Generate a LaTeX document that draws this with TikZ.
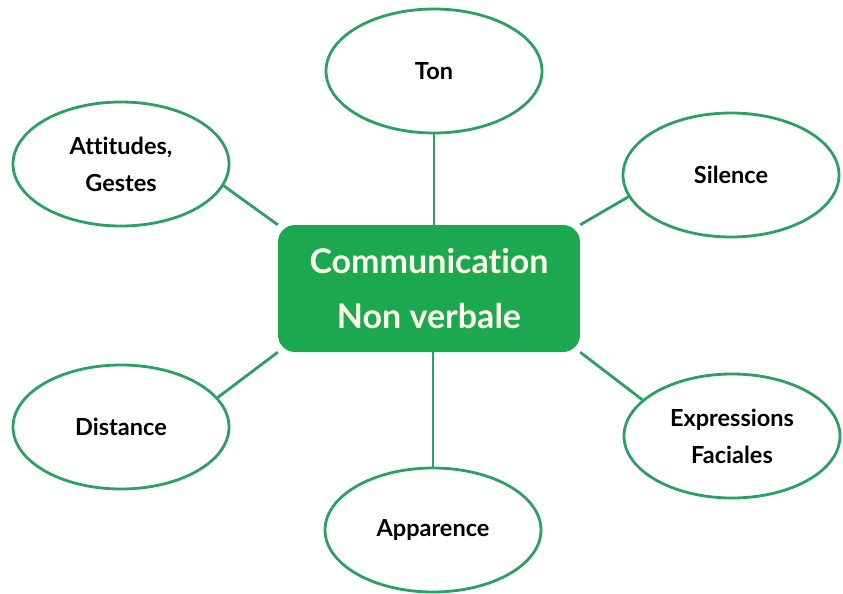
\documentclass[tikz,border=0pt]{standalone}
\usepackage{fontspec}
\setmainfont[Ligatures={NoCommon}]{Lato}
\usetikzlibrary{shapes.geometric,backgrounds}
\definecolor{boxgreen}{RGB}{28,168,80}
\definecolor{ringgreen}{RGB}{44,160,100}
\begin{document}
\begin{tikzpicture}[x=1pt,y=-1pt,line join=round,line cap=round,
	bubble/.style={ellipse,draw=ringgreen,line width=2.8pt,fill=white,minimum width=216pt,minimum height=124pt,inner sep=0pt,align=center,font=\bfseries\fontsize{23.5}{37}\selectfont},
	core/.style={rectangle,rounded corners=17pt,fill=boxgreen,text=white!92!yellow,minimum width=302pt,minimum height=127pt,align=center,font=\bfseries\fontsize{34}{55}\selectfont},
	link/.style={draw=ringgreen,line width=2.8pt}]
	\useasboundingbox (0,0) rectangle (843,594);
	\node[core] (cnv) at (429,288.5) {Communication\\Non verbale};
	\node[bubble] (ton) at (434,71) {Ton};
	\node[bubble] (sil) at (731,175) {Silence};
	\node[bubble] (att) at (121,164) {Attitudes,\\Gestes};
	\node[bubble] (dis) at (121,427) {Distance};
	\node[bubble] (exp) at (732,436) {Expressions\\Faciales};
	\node[bubble] (app) at (433,530) {Apparence};
	\begin{scope}[on background layer]
		\draw[link] (ton.south) -- (ton.south |- cnv.north);
		\draw[link] (app.north) -- (app.north |- cnv.south);
		\draw[link] (att.-12) -- (cnv.north west);
		\draw[link] (sil.192) -- (cnv.north east);
		\draw[link] (dis.17) -- (cnv.south west);
		\draw[link] (exp.158) -- (cnv.south east);
	\end{scope}
\end{tikzpicture}
\end{document}
